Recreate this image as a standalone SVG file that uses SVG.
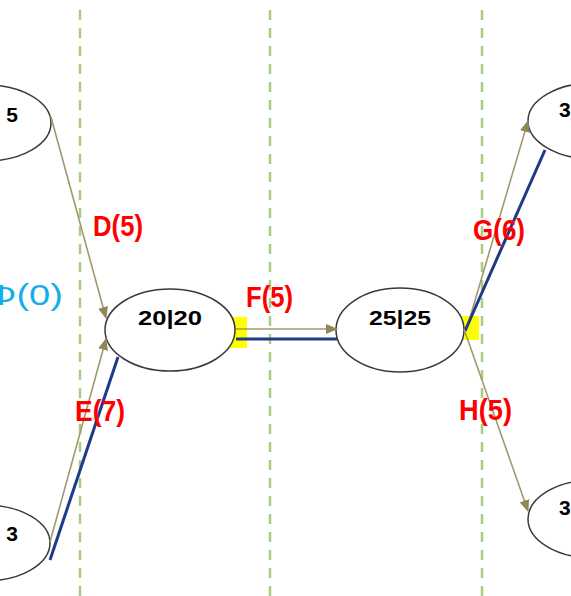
<svg xmlns="http://www.w3.org/2000/svg" width="571" height="596" viewBox="0 0 571 596">
  <style>
    .guide { stroke: #a9cc82; stroke-width: 2.5; stroke-dasharray: 10 8; fill: none; }
    .node ellipse { fill: #ffffff; stroke: #3a3a3a; stroke-width: 1.5; }
    .node text { font-family: "Liberation Sans", Arial, sans-serif; font-weight: bold; font-size: 21px; fill: #000000; }
    .flow { stroke: #a0996a; stroke-width: 1.6; fill: none; }
    .path { stroke: #1f3a86; stroke-width: 3; fill: none; }
    .lbl { font-family: "Liberation Sans", Arial, sans-serif; font-weight: bold; font-size: 29px; fill: #ff0000; }
    .mark { fill: #ffff00; }
  </style>
  <defs>
    <marker id="arrow" viewBox="0 0 12 10" refX="11" refY="5" markerWidth="12" markerHeight="10" markerUnits="userSpaceOnUse" orient="auto">
      <path d="M0,0 L12,5 L0,10 Z" fill="#8f8852"/>
    </marker>
  </defs>

  <!-- time guides -->
  <g id="guides">
    <line class="guide" x1="80" y1="10" x2="80" y2="596"/>
    <line class="guide" x1="270" y1="10" x2="270" y2="596"/>
    <line class="guide" x1="482" y1="10" x2="482" y2="596"/>
  </g>

  <!-- highlight marks at event ends -->
  <g id="marks">
    <rect class="mark" x="222" y="317" width="25" height="31"/>
    <rect class="mark" x="456" y="316" width="23" height="24"/>
  </g>

  <!-- nodes -->
  <g id="node-top-left" class="node">
    <ellipse cx="-14" cy="123" rx="65" ry="38"/>
    <text x="18" y="122" text-anchor="end">5</text>
  </g>
  <g id="node-bottom-left" class="node">
    <ellipse cx="-15" cy="543" rx="65" ry="38"/>
    <text x="18" y="541" text-anchor="end">3</text>
  </g>
  <g id="node-20" class="node">
    <ellipse cx="170" cy="330" rx="65" ry="41"/>
    <text x="138" y="325" textLength="64" lengthAdjust="spacingAndGlyphs">20|20</text>
  </g>
  <g id="node-25" class="node">
    <ellipse cx="400" cy="330" rx="64" ry="42"/>
    <text x="369" y="325" textLength="62" lengthAdjust="spacingAndGlyphs">25|25</text>
  </g>
  <g id="node-top-right" class="node">
    <ellipse cx="593" cy="121" rx="65" ry="38"/>
    <text x="559" y="117">3</text>
  </g>
  <g id="node-bottom-right" class="node">
    <ellipse cx="593" cy="519" rx="65" ry="39"/>
    <text x="559" y="515">3</text>
  </g>

  <!-- connectors -->
  <g id="connectors">
    <line class="flow" x1="51" y1="117" x2="106" y2="318" marker-end="url(#arrow)"/>
    <line class="flow" x1="50" y1="542" x2="106" y2="339" marker-end="url(#arrow)"/>
    <line class="path" x1="50" y1="560" x2="118" y2="357"/>
    <line class="flow" x1="236" y1="329" x2="337" y2="329" marker-end="url(#arrow)"/>
    <line class="path" x1="236" y1="339" x2="337" y2="339"/>
    <line class="flow" x1="466" y1="331" x2="528" y2="121" marker-end="url(#arrow)"/>
    <line class="path" x1="465" y1="331" x2="545" y2="150"/>
    <line class="flow" x1="464" y1="329" x2="528" y2="511" marker-end="url(#arrow)"/>
  </g>

  <!-- connector labels -->
  <g id="labels">
    <text class="lbl" x="93" y="236" textLength="50" lengthAdjust="spacingAndGlyphs">D(5)</text>
    <text class="lbl" x="75" y="421" textLength="50" lengthAdjust="spacingAndGlyphs">E(7)</text>
    <text class="lbl" x="246" y="307" textLength="47" lengthAdjust="spacingAndGlyphs">F(5)</text>
    <text class="lbl" x="473" y="240" textLength="52" lengthAdjust="spacingAndGlyphs">G(6)</text>
    <text class="lbl" x="459" y="420" textLength="53" lengthAdjust="spacingAndGlyphs">H(5)</text>
    <text x="-14" y="305" textLength="77" lengthAdjust="spacingAndGlyphs" font-family="Liberation Sans, Arial, sans-serif" font-size="30" fill="#16aeea">Φ(0)</text>
  </g>
</svg>
